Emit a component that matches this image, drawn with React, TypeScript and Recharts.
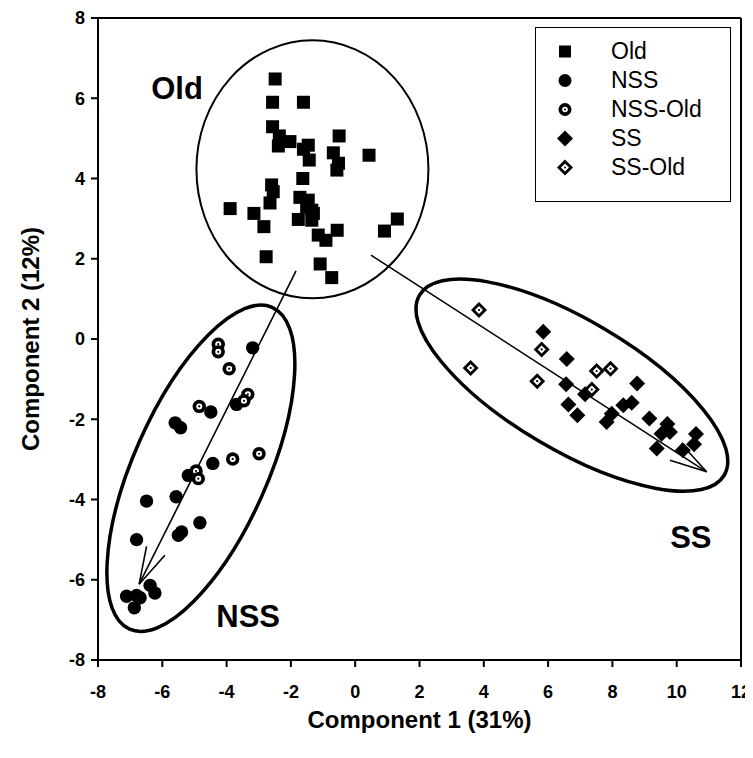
import React from 'react';
import { ScatterChart, Scatter, XAxis, YAxis, ReferenceLine, Legend } from 'recharts';

const FONT = 'Arial, "Liberation Sans", Helvetica, sans-serif';

const xTicks = [-8, -6, -4, -2, 0, 2, 4, 6, 8, 10, 12];
const yTicks = [-8, -6, -4, -2, 0, 2, 4, 6, 8];

const seriesNames = ['Old', 'NSS', 'NSS-Old', 'SS', 'SS-Old'];

const oldPoints = [
  { x: -2.49, y: 6.48 }, { x: -2.57, y: 5.9 }, { x: -1.61, y: 5.9 }, { x: -2.57, y: 5.29 },
  { x: -2.36, y: 5.06 }, { x: -2.39, y: 4.81 }, { x: -2.03, y: 4.92 }, { x: -1.46, y: 4.83 },
  { x: -1.43, y: 4.46 }, { x: -1.61, y: 4.73 }, { x: -0.5, y: 5.06 }, { x: -0.68, y: 4.64 },
  { x: -0.52, y: 4.38 }, { x: -0.57, y: 4.21 }, { x: 0.43, y: 4.58 }, { x: -1.63, y: 4.0 },
  { x: -2.6, y: 3.84 }, { x: -2.55, y: 3.67 }, { x: -2.65, y: 3.39 }, { x: -3.89, y: 3.25 },
  { x: -3.15, y: 3.13 }, { x: -2.84, y: 2.8 }, { x: -2.77, y: 2.05 }, { x: -1.72, y: 3.53 },
  { x: -1.46, y: 3.46 }, { x: -1.35, y: 3.21 }, { x: -1.3, y: 3.13 }, { x: -1.77, y: 2.98 },
  { x: -1.35, y: 2.96 }, { x: -1.51, y: 3.29 }, { x: -1.15, y: 2.59 }, { x: -0.91, y: 2.46 },
  { x: -0.56, y: 2.71 }, { x: -1.09, y: 1.87 }, { x: -0.73, y: 1.53 }, { x: 0.91, y: 2.69 },
  { x: 1.31, y: 2.99 },
];

const nssPoints = [
  { x: -3.19, y: -0.22 }, { x: -4.49, y: -1.82 }, { x: -3.69, y: -1.63 }, { x: -5.6, y: -2.09 },
  { x: -5.43, y: -2.21 }, { x: -4.43, y: -3.1 }, { x: -5.19, y: -3.4 }, { x: -6.49, y: -4.04 },
  { x: -5.57, y: -3.93 }, { x: -4.83, y: -4.58 }, { x: -5.4, y: -4.81 }, { x: -5.5, y: -4.89 },
  { x: -6.8, y: -5.0 }, { x: -6.38, y: -6.14 }, { x: -6.23, y: -6.33 }, { x: -7.11, y: -6.41 },
  { x: -6.8, y: -6.39 }, { x: -6.69, y: -6.45 }, { x: -6.87, y: -6.7 },
];

const nssOldPoints = [
  { x: -4.26, y: -0.13 }, { x: -4.26, y: -0.32 }, { x: -3.92, y: -0.74 }, { x: -3.34, y: -1.38 },
  { x: -3.46, y: -1.54 }, { x: -4.85, y: -1.68 }, { x: -3.81, y: -2.99 }, { x: -2.99, y: -2.86 },
  { x: -4.95, y: -3.29 }, { x: -4.88, y: -3.48 },
];

const ssPoints = [
  { x: 5.85, y: 0.18 }, { x: 6.58, y: -0.5 }, { x: 6.56, y: -1.13 }, { x: 6.63, y: -1.63 },
  { x: 6.91, y: -1.9 }, { x: 7.15, y: -1.38 }, { x: 8.77, y: -1.11 }, { x: 8.34, y: -1.65 },
  { x: 8.6, y: -1.59 }, { x: 7.98, y: -1.86 }, { x: 7.82, y: -2.07 }, { x: 9.15, y: -1.98 },
  { x: 9.71, y: -2.12 }, { x: 9.79, y: -2.32 }, { x: 9.53, y: -2.36 }, { x: 9.38, y: -2.73 },
  { x: 10.6, y: -2.37 }, { x: 10.54, y: -2.62 }, { x: 10.19, y: -2.77 },
];

const ssOldPoints = [
  { x: 3.85, y: 0.72 }, { x: 3.59, y: -0.72 }, { x: 5.8, y: -0.26 }, { x: 5.66, y: -1.05 },
  { x: 7.51, y: -0.8 }, { x: 7.94, y: -0.74 }, { x: 7.36, y: -1.26 },
];

// annotation anchors (data units)
const oldCenter = [{ x: -1.33, y: 4.23 }];
const nssCenter = [{ x: -4.8, y: -3.22 }];
const ssCenter = [{ x: 6.74, y: -1.15 }];

const groupLabels = [
  { x: -5.54, y: 6.25, text: 'Old' },
  { x: -3.33, y: -6.92, text: 'NSS' },
  { x: 10.44, y: -4.94, text: 'SS' },
];

const arrowNSS = [{ x: -1.84, y: 1.7 }, { x: -6.72, y: -6.11 }];
const arrowNSSBarbA = [{ x: -6.72, y: -6.11 }, { x: -6.49, y: -5.17 }];
const arrowNSSBarbB = [{ x: -6.72, y: -6.11 }, { x: -5.92, y: -5.39 }];
const arrowSS = [{ x: 0.49, y: 2.09 }, { x: 10.93, y: -3.31 }];
const arrowSSBarbA = [{ x: 10.93, y: -3.31 }, { x: 9.79, y: -3.02 }];
const arrowSSBarbB = [{ x: 10.93, y: -3.31 }, { x: 10.14, y: -2.61 }];

const SquareShape = (p: any) => (
  <rect x={p.cx - 6.5} y={p.cy - 6.5} width={13} height={13} fill="#000" />
);
const CircleShape = (p: any) => <circle cx={p.cx} cy={p.cy} r={6.7} fill="#000" />;
const RingShape = (p: any) => (
  <g>
    <circle cx={p.cx} cy={p.cy} r={6.7} fill="#000" />
    <circle cx={p.cx} cy={p.cy} r={3} fill="#fff" />
    <circle cx={p.cx} cy={p.cy} r={1.1} fill="#000" />
  </g>
);
const diamondPath = (cx: number, cy: number, r: number) =>
  `M${cx},${cy - r}L${cx + r},${cy}L${cx},${cy + r}L${cx - r},${cy}Z`;
const DiamondShape = (p: any) => <path d={diamondPath(p.cx, p.cy, 8)} fill="#000" />;
const DiamondRingShape = (p: any) => (
  <g>
    <path d={diamondPath(p.cx, p.cy, 8)} fill="#000" />
    <path d={diamondPath(p.cx, p.cy, 4)} fill="#fff" />
    <circle cx={p.cx} cy={p.cy} r={1.1} fill="#000" />
  </g>
);

const makeEllipse = (rx: number, ry: number, rot: number, sw: number) => (p: any) => (
  <ellipse
    cx={p.cx}
    cy={p.cy}
    rx={rx}
    ry={ry}
    transform={`rotate(${rot} ${p.cx} ${p.cy})`}
    fill="none"
    stroke="#000"
    strokeWidth={sw}
  />
);
const OldEllipse = makeEllipse(116, 129, 0, 2);
const NssEllipse = makeEllipse(176, 67, -66.1, 3.5);
const SsEllipse = makeEllipse(177, 65, 30.6, 3.5);

const LabelShape = (p: any) => (
  <text
    x={p.cx}
    y={p.cy}
    textAnchor="middle"
    dominantBaseline="central"
    fontFamily={FONT}
    fontWeight="bold"
    fontSize={31}
    fill="#000"
  >
    {p.payload.text}
  </text>
);

const legendIcons: Record<string, (cx: number, cy: number) => React.ReactNode> = {
  Old: (cx, cy) => <rect x={cx - 6} y={cy - 6} width={12} height={12} fill="#000" />,
  NSS: (cx, cy) => <circle cx={cx} cy={cy} r={6.5} fill="#000" />,
  'NSS-Old': (cx, cy) => (
    <g>
      <circle cx={cx} cy={cy} r={6.5} fill="#000" />
      <circle cx={cx} cy={cy} r={2.8} fill="#fff" />
      <circle cx={cx} cy={cy} r={1} fill="#000" />
    </g>
  ),
  SS: (cx, cy) => <path d={diamondPath(cx, cy, 8)} fill="#000" />,
  'SS-Old': (cx, cy) => (
    <g>
      <path d={diamondPath(cx, cy, 8)} fill="#000" />
      <path d={diamondPath(cx, cy, 4)} fill="#fff" />
      <circle cx={cx} cy={cy} r={1} fill="#000" />
    </g>
  ),
};

const renderLegend = () => (
  <div
    style={{
      width: 196,
      height: 175,
      border: '1px solid #000',
      background: '#fff',
      boxSizing: 'border-box',
      paddingTop: 9,
    }}
  >
    {seriesNames.map((n) => (
      <div key={n} style={{ display: 'flex', alignItems: 'center', height: 29 }}>
        <svg width={60} height={29} style={{ display: 'block' }}>
          {legendIcons[n](29, 14.5)}
        </svg>
        <span style={{ fontFamily: FONT, fontSize: 23, color: '#000', marginLeft: 15 }}>{n}</span>
      </div>
    ))}
  </div>
);

const axisStroke = { stroke: '#000', strokeWidth: 2 };
const tickStyle = { fill: '#000', fontSize: 18, fontWeight: 'bold', fontFamily: FONT };

const XTick = (p: any) => (
  <text
    x={p.x}
    y={p.y}
    dy={14}
    textAnchor="middle"
    fontFamily={FONT}
    fontSize={18}
    fontWeight="bold"
    fill="#000"
  >
    {p.payload.value}
  </text>
);

export default function App() {
  return (
    <div style={{ width: 745, height: 742, position: 'relative' }}>
      <ScatterChart width={745} height={742} margin={{ top: 10, right: 12, bottom: 0, left: 0 }}>
        <XAxis
          type="number"
          dataKey="x"
          domain={[-8, 12]}
          ticks={xTicks}
          interval={0}
          allowDataOverflow
          height={90}
          tickSize={7}
          tickMargin={17}
          axisLine={axisStroke}
          tickLine={axisStroke}
          tick={XTick}
          label={{
            value: 'Component 1 (31%)',
            position: 'insideBottom',
            offset: 22,
            style: { fill: '#000', fontSize: 24, fontWeight: 'bold', fontFamily: FONT },
          }}
        />
        <YAxis
          type="number"
          dataKey="y"
          domain={[-8, 8]}
          ticks={yTicks}
          interval={0}
          allowDataOverflow
          width={90}
          tickSize={7}
          tickMargin={6}
          axisLine={axisStroke}
          tickLine={axisStroke}
          tick={tickStyle}
          label={{
            value: 'Component 2 (12%)',
            angle: -90,
            position: 'insideLeft',
            offset: 22,
            style: { textAnchor: 'middle', fill: '#000', fontSize: 24, fontWeight: 'bold', fontFamily: FONT },
          }}
        />
        <ReferenceLine y={8} stroke="#000" strokeWidth={2} />
        <ReferenceLine x={12} stroke="#000" strokeWidth={2} />

        <ReferenceLine segment={arrowNSS} stroke="#000" strokeWidth={1.6} />
        <ReferenceLine segment={arrowNSSBarbA} stroke="#000" strokeWidth={1.6} />
        <ReferenceLine segment={arrowNSSBarbB} stroke="#000" strokeWidth={1.6} />
        <ReferenceLine segment={arrowSS} stroke="#000" strokeWidth={1.6} />
        <ReferenceLine segment={arrowSSBarbA} stroke="#000" strokeWidth={1.6} />
        <ReferenceLine segment={arrowSSBarbB} stroke="#000" strokeWidth={1.6} />

        <Scatter data={oldCenter} shape={OldEllipse} legendType="none" isAnimationActive={false} />
        <Scatter data={nssCenter} shape={NssEllipse} legendType="none" isAnimationActive={false} />
        <Scatter data={ssCenter} shape={SsEllipse} legendType="none" isAnimationActive={false} />

        <Scatter name="Old" data={oldPoints} shape={SquareShape} isAnimationActive={false} />
        <Scatter name="NSS" data={nssPoints} shape={CircleShape} isAnimationActive={false} />
        <Scatter name="NSS-Old" data={nssOldPoints} shape={RingShape} isAnimationActive={false} />
        <Scatter name="SS" data={ssPoints} shape={DiamondShape} isAnimationActive={false} />
        <Scatter name="SS-Old" data={ssOldPoints} shape={DiamondRingShape} isAnimationActive={false} />

        <Scatter data={groupLabels} shape={LabelShape} legendType="none" isAnimationActive={false} />

        <Legend
          layout="vertical"
          align="center"
          verticalAlign="middle"
          content={renderLegend}
          wrapperStyle={{ position: 'absolute', left: 527, top: 19, width: 196, height: 175 }}
        />
      </ScatterChart>
    </div>
  );
}
